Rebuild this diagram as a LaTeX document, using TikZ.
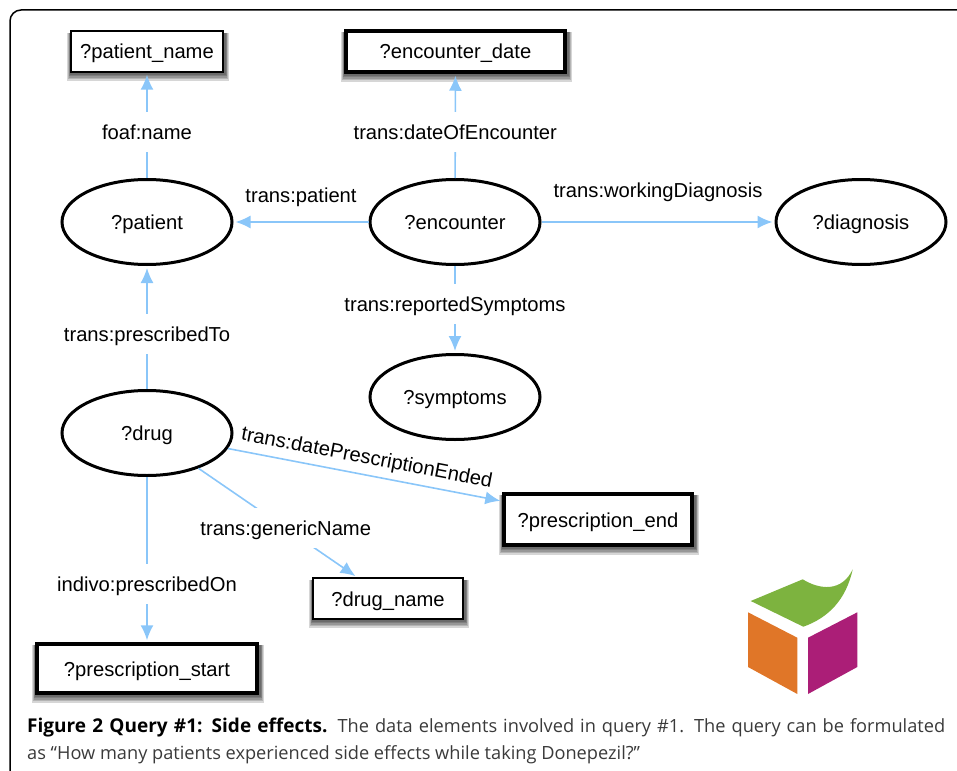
\documentclass[tikz,border=0pt]{standalone}
\usepackage{fontspec}
\setmainfont{Liberation Sans}
\newfontfamily\capfont{Open Sans}
\usetikzlibrary{arrows.meta,backgrounds,calc,shapes.geometric}
\definecolor{edgeblue}{HTML}{8AC6F9}
\definecolor{captext}{HTML}{3A3A3A}
\definecolor{cubegreen}{HTML}{7DB33F}
\definecolor{cubeorange}{HTML}{E07628}
\definecolor{cubepurple}{HTML}{AB1E77}

\begin{document}
\begin{tikzpicture}
	[   x=1pt,y=-1pt,
		every node/.style={font=\fontsize{20.2}{24}\selectfont},
		lift/.style={text height=15pt,text depth=0pt},
		vnode/.style={draw=black,line width=3pt,fill=white,ellipse,minimum width=170pt,minimum height=85pt,inner sep=0pt,lift},
		rnode/.style={draw=black,line width=#1,fill=white,inner sep=0pt,lift},
		edge/.style={draw=edgeblue,line width=1.6pt,-{Latex[length=15pt,width=13pt]},shorten >=2pt},
		gaplabel/.style={fill=white,inner sep=0pt,minimum height=40pt,lift},
		toplabel/.style={inner sep=0pt,lift},
	]
	\useasboundingbox (0,0) rectangle (957,770);
	\draw[black,line width=1.5pt,rounded corners=11pt] (10,775) -- (10,10) -- (970,10);

	\node[rnode=1.5pt,minimum width=152pt,minimum height=41pt] (patient-name) at (147,51.5) {?patient\_name};
	\node[rnode=3.5pt,minimum width=219pt,minimum height=41pt] (encounter-date) at (455.5,51.5) {?encounter\_date};
	\node[rnode=3.5pt,minimum width=188pt,minimum height=51pt] (prescription-end) at (598,519.5) {?prescription\_end};
	\node[rnode=1.5pt,minimum width=150pt,minimum height=41pt] (drug-name) at (388,598.5) {?drug\_name};
	\node[rnode=3.5pt,minimum width=220pt,minimum height=49pt] (prescription-start) at (147,668.5) {?prescription\_start};

	% soft shadows
	\begin{scope}[on background layer]
		\foreach \n in {patient-name,encounter-date,prescription-end,drug-name,prescription-start}
		{
			\foreach \s in {0,...,4}
			{
				\fill[black,opacity=0.16] ($(\n.north west)+(-\s*0.8,3)$) rectangle ($(\n.south east)+(2+\s*0.8,2+\s*1.5)$);
			}
		}
	\end{scope}

	\node[vnode] (patient) at (147,222) {?patient};
	\node[vnode] (encounter) at (455,222) {?encounter};
	\node[vnode] (diagnosis) at (861,222) {?diagnosis};
	\node[vnode] (symptoms) at (455,397) {?symptoms};
	\node[vnode] (drug) at (147,433) {?drug};

	\path[edge] (patient) -- node[gaplabel,pos=0.44] {foaf:name} (patient-name);
	\path[edge] (encounter) -- node[gaplabel,pos=0.44] {trans:dateOfEncounter} (encounter-date);
	\path[edge] (encounter) -- node[toplabel,above=19pt] {trans:patient} (patient);
	\path[edge] (encounter) -- node[toplabel,above=24pt] {trans:workingDiagnosis} (diagnosis);
	\path[edge] (encounter) -- node[gaplabel,pos=0.44] {trans:reportedSymptoms} (symptoms);
	\path[edge] (drug) -- node[gaplabel,pos=0.45] {trans:prescribedTo} (patient);
	\path[edge] (drug) -- node[toplabel,above=10pt,sloped,pos=0.495] {trans:datePrescriptionEnded} (prescription-end);
	\path[edge] (drug) -- node[gaplabel,pos=0.55] {trans:genericName} (drug-name);
	\path[edge] (drug) -- node[gaplabel,pos=0.65] {indivo:prescribedOn} (prescription-start);

	% logo
	\fill[cubegreen] (750.7,601) -- (802.7,579.3) .. controls (820,590) and (842,592) .. (852.7,569.3) .. controls (846,600) and (828,618) .. (803.3,626.7) -- cycle;
	\fill[cubeorange] (748,612.3) -- (797.3,637.7) -- (797.3,694) -- (748,667) -- cycle;
	\fill[cubepurple] (857.3,612.3) -- (808,637.7) -- (808,694) -- (857.3,667) -- cycle;

	\node[anchor=north west,text width=918pt,align=justify,inner sep=0pt,text=captext,font=\capfont\fontsize{18.2}{27}\selectfont] (caption) at (27,717.5)
	{{\bfseries\color{black}\fontsize{19}{27}\selectfont Figure 2 Query \#1: Side effects.} The data elements involved in query \#1. The query can be formulated\linebreak as “How many patients experienced side effects while taking Donepezil?”};
\end{tikzpicture}
\end{document}
